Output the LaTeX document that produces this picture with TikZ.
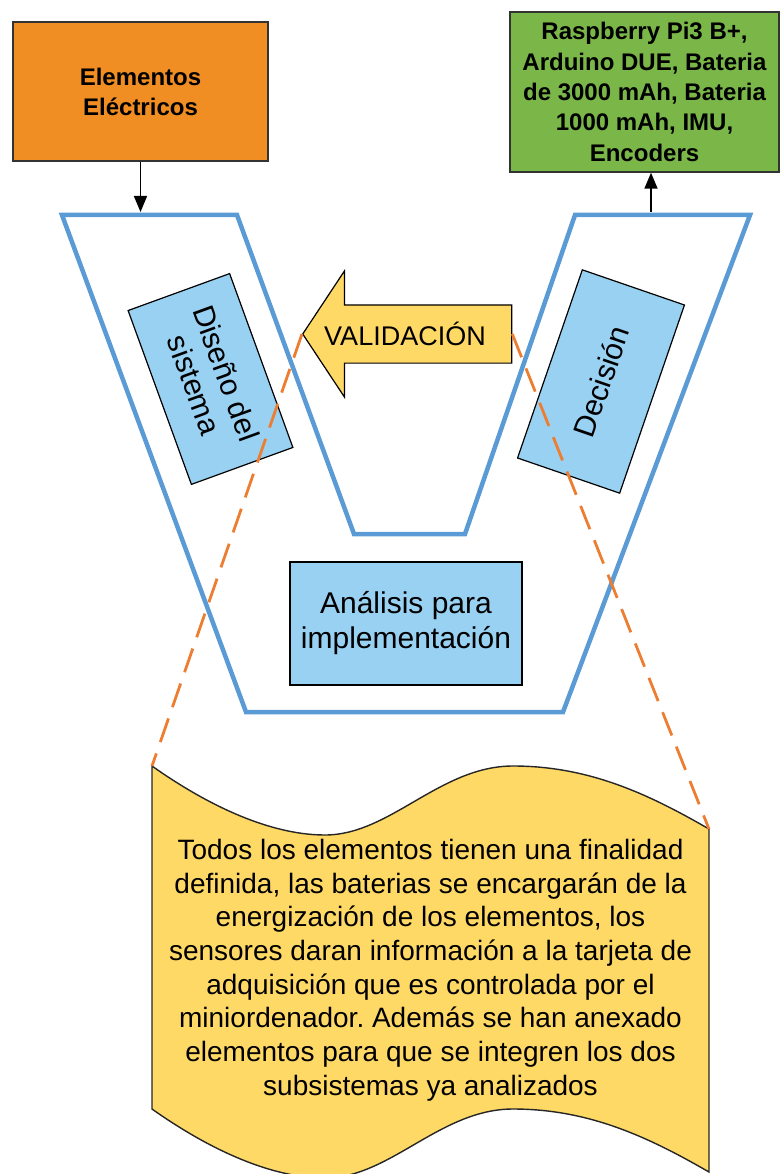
\documentclass[tikz,border=0pt]{standalone}
\usepackage{fontspec}
\setmainfont{Liberation Sans}
\usepackage{tikz}
\usetikzlibrary{shapes.arrows, arrows.meta}
\definecolor{elecorange}{RGB}{240,141,35}
\definecolor{compgreen}{RGB}{122,182,72}
\definecolor{vblue}{RGB}{91,155,213}
\definecolor{stageblue}{RGB}{153,209,243}
\definecolor{noteyellow}{RGB}{255,217,102}
\definecolor{zoomorange}{RGB}{237,125,49}
\frenchspacing

\begin{document}
\begin{tikzpicture}[
  x=1pt, y=-1pt,
  box/.style      = {rectangle, draw=black!80, line width=1.4pt, align=center, inner sep=0pt},
  elecbox/.style  = {box, fill=elecorange, font=\fontsize{24}{30}\selectfont\bfseries},
  compbox/.style  = {box, fill=compgreen, font=\fontsize{24}{30.3}\selectfont\bfseries},
  stagebox/.style = {box, fill=stageblue, draw=black, line width=1.2pt,
                     font=\fontsize{30}{34}\selectfont},
  valarrow/.style = {single arrow, shape border rotate=180, draw=black, line width=1.2pt,
                     fill=noteyellow, single arrow head extend=34pt,
                     single arrow tip angle=113, minimum height=209pt,
                     text height=20pt, text depth=5pt, inner ysep=16pt, inner xsep=0pt},
  vline/.style    = {draw=vblue, line width=4.5pt, line join=miter},
  arrow/.style    = {-{Triangle[length=16pt,width=13pt]}, line width=1.6pt},
  zoomline/.style = {draw=zoomorange, line width=2.8pt, dash pattern=on 25pt off 12pt},
  note/.style     = {draw=black!85, line width=1.4pt, fill=noteyellow},
]
\useasboundingbox (0,0) rectangle (780,1174);

%% --- V outline ---
\draw[vline] (62,215) -- (237,215) -- (354,534) -- (465,534) -- (575,215)
  -- (750,215) -- (563,712) -- (246,712) -- cycle;
\coordinate (vinL)  at (140.5,212);
\coordinate (voutR) at (651,212);

%% --- Top boxes ---
\node[elecbox, minimum width=255pt, minimum height=139pt] (elec) at (140.5,91.5)
  {Elementos\\Eléctricos};
\node[compbox, minimum width=269pt, minimum height=160pt] (comp) at (644.5,92)
  {Raspberry Pi3 B+,\\Arduino DUE, Bateria\\de 3000 mAh, Bateria\\1000 mAh, IMU,\\Encoders};

%% --- Stages inside the V ---
\node[stagebox, rotate=-70, minimum width=185pt, minimum height=108pt] (diseno) at (210.5,379)
  {Diseño del\\sistema};
\node[stagebox, rotate=71, minimum width=199pt, minimum height=108pt] (decision) at (601,381.5)
  {Decisión};
\node[stagebox, minimum width=232pt, minimum height=123pt, font=\fontsize{30}{35}\selectfont]
  (analisis) at (406,623.5) {Análisis para\\implementación};
\node[valarrow, anchor=tip] (val) at (302,334) {};
\node[font=\fontsize{27}{30}\selectfont] (valtext) at (405,334) {VALIDACIÓN};

%% --- Note ---
\coordinate (noteTL) at (152,766);
\coordinate (noteTR) at (709,829);
\draw[note] (noteTL) .. controls (200,800) and (265,835) .. (325,835)
  .. controls (390,835) and (440,766) .. (513,766)
  .. controls (590,766) and (650,795) .. (noteTR)
  -- (709,1172) .. controls (650,1138) and (590,1109) .. (513,1109)
  .. controls (440,1109) and (390,1178) .. (325,1178)
  .. controls (265,1178) and (200,1143) .. (152,1109) -- cycle;
\node[align=center, font=\fontsize{28}{33.7}\selectfont] (notetext) at (430.5,970)
  {Todos los elementos tienen una finalidad\\definida, las baterias se encargarán de la\\energización de los elementos, los\\sensores daran información a la tarjeta de\\adquisición que es controlada por el\\miniordenador. Además se han anexado\\elementos para que se integren los dos\\subsistemas ya analizados};

%% --- Arrows ---
\draw[arrow] (elec.south) -- (vinL);
\draw[arrow] (voutR) -- (voutR |- comp.south);

%% --- Zoom lines ---
\draw[zoomline] (val.tip)  -- (noteTL);
\draw[zoomline] (val.tail) -- (noteTR);

\end{tikzpicture}
\end{document}
